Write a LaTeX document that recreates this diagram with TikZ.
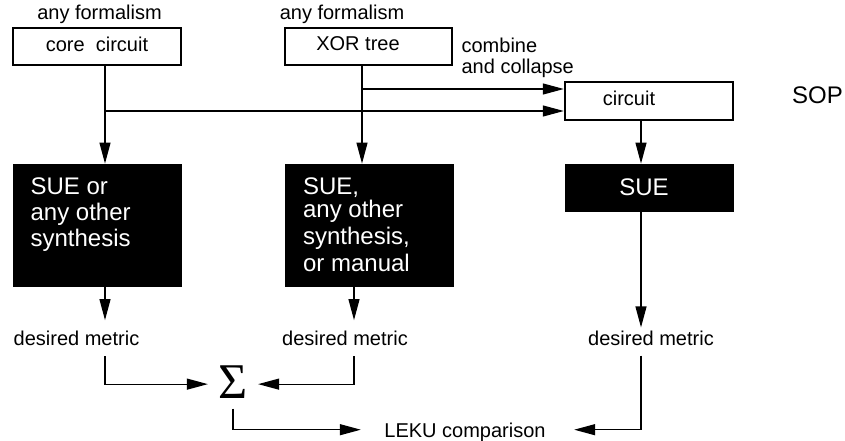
\documentclass[tikz,border=0pt]{standalone}
\usepackage{fontspec}
\setmainfont{Liberation Sans}
\newfontfamily\sigmafont{Liberation Serif}
\usetikzlibrary{arrows.meta}
\begin{document}
\begin{tikzpicture}[x=1pt,y=-1pt,
  font=\fontsize{20}{21}\selectfont,
  line width=1.2pt,
  >={Triangle[length=21pt,width=11pt]},
  arr/.style={->},
  wbox/.style={draw, line width=1.2pt, minimum width=168pt, minimum height=37pt, inner sep=0pt, text depth=5pt},
  bbox/.style={fill=black, draw=black, line width=0.8pt, inner sep=0pt, text=white, font=\fontsize{24}{26}\selectfont},
  btext/.style={text=white, align=left, anchor=north west, inner sep=0pt, font=\fontsize{24}{26}\selectfont},
  lbl/.style={inner sep=0pt, anchor=base},
  metric/.style={anchor=base, text height=15pt, text depth=0pt, inner ysep=10pt, inner xsep=0pt}]
\useasboundingbox (0,0) rectangle (845,441);
% top row
\node[lbl] (af1) at (99.5,20) {any formalism};
\node[wbox] (core) at (97,46.5) {core\ \ circuit};
\node[lbl] (af2) at (342,20) {any formalism};
\node[wbox, minimum width=167pt] (xor) at (368.5,46.5) {XOR tree\hspace*{21pt}};
\node[anchor=north west, align=left, inner sep=0pt] (comb) at (461,37.4) {combine\\and collapse};
\node[wbox, line width=2.4pt, minimum height=38pt] (circ) at (649,101) {circuit\hspace*{40pt}};
\node[lbl, font=\fontsize{24}{26}\selectfont] (sop) at (817.5,104) {SOP};
% black boxes
\node[bbox, minimum width=168pt, minimum height=122pt] (b1) at (97,225) {};
\node[btext] (t1) at (30,177.4) {SUE or\\any other\\synthesis};
\node[bbox, minimum width=168pt, minimum height=122pt] (b2) at (369,225) {};
\node[btext, font=\fontsize{24}{27}\selectfont] (t2) at (302.5,177.4) {SUE,\\[-4pt]any other\\synthesis,\\or manual};
\node[bbox, minimum width=168pt, minimum height=47pt] (b3) at (649,187.5) {SUE\hspace*{10pt}};
% metrics
\node[metric] (dm1) at (76.5,345.7) {desired metric};
\node[metric] (dm2) at (345,345.7) {desired metric};
\node[metric] (dm3) at (651,345) {desired metric};
\node[inner sep=10pt, anchor=base, font=\sigmafont\fontsize{50}{50}\selectfont] (sig) at (233,398) {Σ};
\node[lbl, text height=14.6pt, text depth=0pt] (leku) at (465,437) {LEKU comparison};
% connectors
\coordinate (j1) at (105,111);
\coordinate (j2) at (362,89);
\draw[arr] ([xshift=8pt]core.south) -- ([xshift=8pt]b1.north);
\draw[arr] (j1) -- (j1 -| circ.west);
\draw[arr] ([xshift=-6.5pt]xor.south) -- ([xshift=-7pt]b2.north);
\draw[arr] (j2) -- (j2 -| circ.west);
\draw[arr] ([xshift=-8pt]circ.south) -- ([xshift=-8pt]b3.north);
\draw[arr] ([xshift=8pt]b1.south) -- ([xshift=28.5pt]dm1.north);
\draw[arr] ([xshift=-15pt]b2.south) -- ([xshift=9pt]dm2.north);
\draw[arr] ([xshift=-8pt]b3.south) -- ([xshift=-10pt,yshift=-8pt]dm3.north);
\draw[arr] ([xshift=28.5pt]dm1.south) |- ([yshift=-2.5pt]sig.west);
\draw[arr] ([xshift=9pt]dm2.south) |- ([yshift=-2.5pt]sig.east);
\draw[arr] (sig.south) |- ([xshift=-23pt]leku.west);
\draw[arr] ([xshift=-10pt]dm3.south) |- ([xshift=28pt]leku.east);
\end{tikzpicture}
\end{document}
